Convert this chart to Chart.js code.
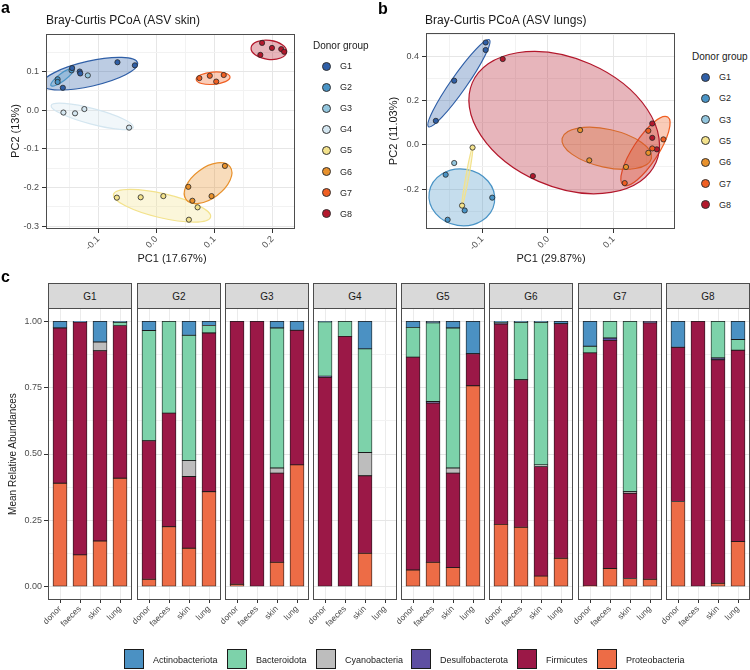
<!DOCTYPE html>
<html>
<head>
<meta charset="utf-8">
<script src="https://cdn.jsdelivr.net/npm/chart.js@4.4.0/dist/chart.umd.min.js"></script>
<style>
  body { margin: 0; background: #fff; font-family: Arial, "Liberation Sans", sans-serif; }
  #fig { position: relative; width: 750px; height: 670px; overflow: hidden; background: #fff; }
  #fig canvas { position: absolute; }
  .txt { position: absolute; white-space: nowrap; color: #1a1a1a; line-height: 1; }
  .strip { position: absolute; box-sizing: border-box; background: #d9d9d9; border: 1px solid #4d4d4d;
           font-size: 10px; color: #1a1a1a; display: flex; align-items: center; justify-content: center; }
  .dot { position: absolute; box-sizing: border-box; width: 9px; height: 9px; border-radius: 50%; border: 1px solid #333; }
  .key { position: absolute; box-sizing: border-box; width: 20px; height: 20px; border: 1.5px solid #1a1a1a; }
</style>
</head>
<body>
<div id="fig"></div>
<script>
// ---------- data ----------
const groups = ['G1', 'G2', 'G3', 'G4', 'G5', 'G6', 'G7', 'G8'];
const groupColors = {
  G1: '#2f5fa7', G2: '#4a94c6', G3: '#93c6de', G4: '#d4e6f0',
  G5: '#f3e28c', G6: '#e8912c', G7: '#f05f22', G8: '#b3182c'
};

// Bray-Curtis PCoA, ASV skin
const skinPC1 = {
  G1: [-0.145, -0.161, -0.067, -0.037, -0.132, -0.131],
  G2: [-0.170, -0.170, -0.146],
  G3: [-0.118],
  G4: [-0.160, -0.140, -0.124, -0.047],
  G5: [-0.068, -0.027, 0.012, 0.071, 0.056],
  G6: [0.055, 0.062, 0.095, 0.118],
  G7: [0.074, 0.092, 0.103, 0.116],
  G8: [0.182, 0.199, 0.215, 0.220, 0.179]
};
const skinPC2 = {
  G1: [0.109, 0.058, 0.124, 0.116, 0.100, 0.095],
  G2: [0.080, 0.073, 0.103],
  G3: [0.090],
  G4: [-0.006, -0.008, 0.003, -0.045],
  G5: [-0.226, -0.225, -0.222, -0.251, -0.283],
  G6: [-0.198, -0.234, -0.222, -0.144],
  G7: [0.083, 0.089, 0.074, 0.091],
  G8: [0.174, 0.161, 0.158, 0.151, 0.143]
};
const skinXTicks = [-0.1, 0.0, 0.1, 0.2];
const skinYTicks = [-0.3, -0.2, -0.1, 0.0, 0.1];

// Bray-Curtis PCoA, ASV lungs
const lungPC1 = {
  G1: [-0.095, -0.095, -0.143, -0.171],
  G2: [-0.156, -0.153, -0.127, -0.085],
  G3: [-0.143],
  G5: [-0.115, -0.131],
  G6: [0.049, 0.063, 0.119, 0.153],
  G7: [0.117, 0.176, 0.153, 0.159],
  G8: [-0.069, -0.023, 0.159, 0.159, 0.166]
};
const lungPC2 = {
  G1: [0.464, 0.430, 0.291, 0.109],
  G2: [-0.135, -0.339, -0.297, -0.239],
  G3: [-0.082],
  G5: [-0.012, -0.275],
  G6: [0.067, -0.070, -0.100, -0.036],
  G7: [-0.173, 0.025, 0.064, -0.016],
  G8: [0.389, -0.141, 0.097, 0.032, -0.020]
};
const lungXTicks = [-0.1, 0.0, 0.1];
const lungYTicks = [-0.2, 0.0, 0.2, 0.4];

// mean relative abundances: per group, values for donor / faeces / skin / lung
const sites = ['donor', 'faeces', 'skin', 'lung'];
const phyla = ['Actinobacteriota', 'Bacteroidota', 'Cyanobacteria', 'Desulfobacterota', 'Firmicutes', 'Proteobacteria'];
const phylumColors = ['#4b91c3', '#7dd2aa', '#bdbdbd', '#5e4fa2', '#9b1847', '#ed6c46'];

const actinobacteriota = {
  G1: [0.025, 0.003, 0.078, 0.004], G2: [0.035, 0, 0.053, 0.016],
  G3: [0, 0, 0.025, 0.034],         G4: [0.002, 0, 0.104, 0],
  G5: [0.023, 0.006, 0.025, 0.122], G6: [0.003, 0.004, 0.004, 0.009],
  G7: [0.094, 0, 0, 0],             G8: [0.098, 0, 0, 0.069]
};
const bacteroidota = {
  G1: [0, 0, 0, 0.012],             G2: [0.415, 0.346, 0.472, 0.028],
  G3: [0, 0, 0.528, 0],             G4: [0.205, 0.057, 0.390, 0],
  G5: [0.112, 0.296, 0.528, 0],     G6: [0.002, 0.216, 0.537, 0],
  G7: [0.025, 0.063, 0.642, 0],     G8: [0, 0, 0.138, 0.040]
};
const cyanobacteria = {
  G1: [0, 0, 0.033, 0], G2: [0, 0, 0.060, 0], G3: [0, 0, 0.019, 0], G4: [0, 0, 0.088, 0],
  G5: [0, 0, 0.019, 0], G6: [0, 0, 0.006, 0], G7: [0, 0, 0.006, 0], G8: [0, 0, 0, 0]
};
const desulfobacterota = {
  G1: [0, 0, 0, 0],     G2: [0, 0, 0, 0],     G3: [0, 0, 0, 0],         G4: [0.004, 0, 0, 0],
  G5: [0, 0.006, 0, 0], G6: [0.005, 0, 0, 0], G7: [0, 0.009, 0, 0.006], G8: [0, 0, 0.007, 0]
};
const firmicutes = {
  G1: [0.585, 0.877, 0.717, 0.575], G2: [0.522, 0.428, 0.270, 0.598],
  G3: [0.991, 1.000, 0.336, 0.507], G4: [0.789, 0.943, 0.292, 0],
  G5: [0.802, 0.600, 0.356, 0.121], G6: [0.755, 0.556, 0.413, 0.884],
  G7: [0.878, 0.859, 0.321, 0.966], G8: [0.581, 1.000, 0.842, 0.721]
};
const proteobacteria = {
  G1: [0.390, 0.120, 0.172, 0.409], G2: [0.028, 0.226, 0.145, 0.358],
  G3: [0.009, 0, 0.092, 0.459],     G4: [0, 0, 0.126, 0],
  G5: [0.063, 0.092, 0.072, 0.757], G6: [0.235, 0.224, 0.040, 0.107],
  G7: [0.003, 0.069, 0.031, 0.028], G8: [0.321, 0, 0.013, 0.170]
};
const abundances = [actinobacteriota, bacteroidota, cyanobacteria, desulfobacterota, firmicutes, proteobacteria];
const abundanceYTicks = [0, 0.25, 0.5, 0.75, 1];

// ---------- helpers ----------
const FONT = 'Arial, "Liberation Sans", sans-serif';
const fig = document.getElementById('fig');

function addText(text, x, y, opts = {}) {
  const d = document.createElement('div');
  d.className = 'txt';
  d.textContent = text;
  d.style.left = x + 'px';
  d.style.top = y + 'px';
  d.style.fontSize = (opts.size || 10) + 'px';
  if (opts.bold) d.style.fontWeight = 'bold';
  if (opts.color) d.style.color = opts.color;
  const tx = opts.center ? '-50%' : '0';
  d.style.transform = `translate(${tx}, -50%)` + (opts.rotate ? ` rotate(${opts.rotate}deg)` : '');
  if (opts.rotate) d.style.transformOrigin = '50% 50%';
  fig.appendChild(d);
  return d;
}

function addCanvas(left, top, w, h) {
  const c = document.createElement('canvas');
  c.width = w; c.height = h;
  c.style.left = left + 'px'; c.style.top = top + 'px';
  c.style.width = w + 'px'; c.style.height = h + 'px';
  fig.appendChild(c);
  return c;
}

function withAlpha(hex, a) {
  const n = parseInt(hex.slice(1), 16);
  return `rgba(${n >> 16},${(n >> 8) & 255},${n & 255},${a})`;
}

function minorsOf(majors, min, max) {
  const step = majors[1] - majors[0];
  const out = majors.map(v => v - step / 2).concat([majors[majors.length - 1] + step / 2]);
  return out.filter(v => v > min && v < max);
}
const isIn = (arr, v) => arr.some(m => Math.abs(m - v) < 1e-9);

function inv3(m) {
  const [a, b, c] = m[0], [d, e, f] = m[1], [g, h, i] = m[2];
  const A = e * i - f * h, B = -(d * i - f * g), C = d * h - e * g;
  const det = a * A + b * B + c * C;
  return [
    [A / det, -(b * i - c * h) / det, (b * f - c * e) / det],
    [B / det, (a * i - c * g) / det, -(a * f - c * d) / det],
    [C / det, -(a * h - b * g) / det, (a * e - b * d) / det]
  ];
}

// minimum volume enclosing ellipse (Khachiyan), in pixel space
function enclosingEllipse(pts) {
  const n = pts.length;
  if (n < 2) return null;
  const mx = pts.reduce((s, p) => s + p[0], 0) / n;
  const my = pts.reduce((s, p) => s + p[1], 0) / n;
  const P = pts.map(p => [p[0] - mx, p[1] - my]);
  if (n === 2) {
    const dx = P[1][0] - P[0][0], dy = P[1][1] - P[0][1];
    return { cx: mx, cy: my, a: Math.hypot(dx, dy) / 2 + 1, b: 1.5, angle: Math.atan2(dy, dx) };
  }
  let u = new Array(n).fill(1 / n);
  for (let it = 0; it < 20000; it++) {
    const X = [[0, 0, 0], [0, 0, 0], [0, 0, 0]];
    P.forEach((p, k) => {
      const q = [p[0], p[1], 1];
      for (let r = 0; r < 3; r++) for (let c = 0; c < 3; c++) X[r][c] += u[k] * q[r] * q[c];
    });
    const Xi = inv3(X);
    let j = 0, mj = -Infinity;
    P.forEach((p, k) => {
      const q = [p[0], p[1], 1];
      let m = 0;
      for (let r = 0; r < 3; r++) for (let c = 0; c < 3; c++) m += q[r] * Xi[r][c] * q[c];
      if (m > mj) { mj = m; j = k; }
    });
    const step = (mj - 3) / (3 * (mj - 1));
    if (!(step > 1e-7)) break;
    u = u.map(v => v * (1 - step));
    u[j] += step;
  }
  let cx = 0, cy = 0, sxx = 0, sxy = 0, syy = 0;
  P.forEach((p, k) => {
    cx += u[k] * p[0]; cy += u[k] * p[1];
    sxx += u[k] * p[0] * p[0]; sxy += u[k] * p[0] * p[1]; syy += u[k] * p[1] * p[1];
  });
  sxx = 2 * (sxx - cx * cx); sxy = 2 * (sxy - cx * cy); syy = 2 * (syy - cy * cy);
  const tr = (sxx + syy) / 2, df = Math.sqrt(((sxx - syy) / 2) ** 2 + sxy * sxy);
  // small expansion so the outline sits just outside the points
  return {
    cx: cx + mx, cy: cy + my,
    a: Math.sqrt(tr + df) + 2.5, b: Math.max(Math.sqrt(Math.max(tr - df, 0)), 1) + 2.5,
    angle: 0.5 * Math.atan2(2 * sxy, sxx - syy)
  };
}

const markEllipses = {
  id: 'markEllipses',
  beforeDatasetsDraw(chart) {
    const { ctx, chartArea: ar, scales: { x, y } } = chart;
    ctx.save();
    ctx.beginPath(); ctx.rect(ar.left, ar.top, ar.width, ar.height); ctx.clip();
    chart.data.datasets.forEach(ds => {
      const e = enclosingEllipse(ds.data.map(p => [x.getPixelForValue(p.x), y.getPixelForValue(p.y)]));
      if (!e) return;
      ctx.beginPath();
      ctx.ellipse(e.cx, e.cy, e.a, e.b, e.angle, 0, Math.PI * 2);
      ctx.fillStyle = withAlpha(ds.backgroundColor, 0.32);
      ctx.fill();
      ctx.strokeStyle = ds.backgroundColor;
      ctx.lineWidth = 1.2;
      ctx.stroke();
    });
    ctx.restore();
  }
};

const panelBorder = {
  id: 'panelBorder',
  afterDraw(chart) {
    const { ctx, chartArea: ar } = chart;
    ctx.save();
    ctx.strokeStyle = '#4d4d4d';
    ctx.lineWidth = 1;
    ctx.strokeRect(Math.round(ar.left) + 0.5, Math.round(ar.top) + 0.5,
                   Math.round(ar.width) - 1, Math.round(ar.height) - 1);
    ctx.restore();
  }
};

function gridFor(majors, withTicks) {
  return {
    color: c => isIn(majors, c.tick.value) ? '#e6e6e6' : '#f2f2f2',
    lineWidth: 1,
    drawTicks: withTicks,
    tickLength: 4,
    tickWidth: 1,
    tickColor: c => isIn(majors, c.tick.value) ? '#333' : 'rgba(0,0,0,0)'
  };
}

// ---------- PCoA panels ----------
function pcoaChart(box, pc1, pc2, xMajors, yMajors, xr, yr) {
  const cv = addCanvas(box.left, box.top, box.w, box.h);
  const xAll = xMajors.concat(minorsOf(xMajors, xr[0], xr[1])).sort((a, b) => a - b);
  const yAll = yMajors.concat(minorsOf(yMajors, yr[0], yr[1])).sort((a, b) => a - b);
  const datasets = Object.keys(pc1).map(g => ({
    label: g,
    data: pc1[g].map((v, k) => ({ x: v, y: pc2[g][k] })),
    backgroundColor: groupColors[g],
    borderColor: '#262626',
    borderWidth: 0.8,
    pointRadius: 2.6
  }));
  new Chart(cv, {
    type: 'scatter',
    data: { datasets },
    plugins: [markEllipses, panelBorder],
    options: {
      responsive: false, animation: false, events: [],
      layout: { padding: { top: box.top0, right: box.right0, left: 0, bottom: 0 } },
      plugins: { legend: { display: false }, tooltip: { enabled: false } },
      scales: {
        x: {
          type: 'linear', min: xr[0], max: xr[1],
          afterBuildTicks: s => { s.ticks = xAll.map(v => ({ value: v })); },
          afterFit: s => { s.height = box.bottom0; s.paddingLeft = 0; s.paddingRight = 0; },
          grid: gridFor(xMajors, true),
          border: { display: false },
          ticks: {
            autoSkip: false, maxRotation: 45, minRotation: 45, padding: 1,
            color: '#4d4d4d', font: { family: FONT, size: 9 },
            callback: v => isIn(xMajors, v) ? v.toFixed(1) : ''
          }
        },
        y: {
          type: 'linear', min: yr[0], max: yr[1],
          afterBuildTicks: s => { s.ticks = yAll.map(v => ({ value: v })); },
          afterFit: s => { s.width = box.left0; s.paddingTop = 0; s.paddingBottom = 0; },
          grid: gridFor(yMajors, true),
          border: { display: false },
          ticks: {
            autoSkip: false, padding: 3,
            color: '#4d4d4d', font: { family: FONT, size: 9 },
            callback: v => isIn(yMajors, v) ? v.toFixed(1) : ''
          }
        }
      }
    }
  });
}

pcoaChart({ left: 0, top: 0, w: 300, h: 262, left0: 46, top0: 34, right0: 2, bottom0: 33 },
  skinPC1, skinPC2, skinXTicks, skinYTicks, [-0.190, 0.239], [-0.307, 0.197]);
pcoaChart({ left: 380, top: 0, w: 300, h: 262, left0: 46, top0: 33, right0: 4, bottom0: 33 },
  lungPC1, lungPC2, lungXTicks, lungYTicks, [-0.186, 0.194], [-0.381, 0.507]);

addText('a', 1, 8, { size: 16, bold: true, color: '#000' });
addText('b', 378, 9, { size: 16, bold: true, color: '#000' });
addText('Bray-Curtis PCoA (ASV skin)', 46, 20, { size: 12 });
addText('Bray-Curtis PCoA (ASV lungs)', 425, 20, { size: 12 });
addText('PC1 (17.67%)', 172, 258, { size: 11, center: true });
addText('PC1 (29.87%)', 551, 258, { size: 11, center: true });
addText('PC2 (13%)', 15, 131, { size: 11, center: true, rotate: -90 });
addText('PC2 (11.03%)', 393, 131, { size: 11, center: true, rotate: -90 });

function donorLegend(names, x, titleY, firstY, dy) {
  addText('Donor group', x, titleY, { size: 10 });
  names.forEach((g, k) => {
    const cy = firstY + k * dy;
    const d = document.createElement('div');
    d.className = 'dot';
    d.style.left = (x + 8.5) + 'px';
    d.style.top = (cy - 4.5) + 'px';
    d.style.background = groupColors[g];
    fig.appendChild(d);
    addText(g, x + 27, cy, { size: 9, color: '#262626' });
  });
}
donorLegend(Object.keys(skinPC1), 313, 46, 66, 21.1);
donorLegend(Object.keys(lungPC1), 692, 57, 77, 21.3);

// ---------- relative abundance facets ----------
addText('c', 1, 277, { size: 16, bold: true, color: '#000' });
addText('Mean Relative Abundances', 13, 454, { size: 10, center: true, rotate: -90 });

const facetLefts = [48, 137, 225, 313, 401, 489, 578, 666];
const yAllC = abundanceYTicks.concat(minorsOf(abundanceYTicks, -0.05, 1.05)).sort((a, b) => a - b);

groups.forEach((g, i) => {
  const first = i === 0;
  const axisW = first ? 48 : 22;
  const cvLeft = facetLefts[i] - axisW;
  const cv = addCanvas(cvLeft, 308, axisW + 84, 340);

  const strip = document.createElement('div');
  strip.className = 'strip';
  strip.style.left = facetLefts[i] + 'px';
  strip.style.top = '283px';
  strip.style.width = '84px';
  strip.style.height = '26px';
  strip.textContent = g;
  fig.appendChild(strip);

  // bottom of the stack first
  const order = phyla.map((p, k) => k).reverse();
  const datasets = order.map(k => ({
    label: phyla[k],
    stack: 's',
    data: sites.map((s, j) => ({ x: j + 1, y: abundances[k][g][j] })),
    backgroundColor: phylumColors[k],
    borderColor: '#1a1a1a',
    borderWidth: 0.8,
    borderSkipped: false,
    barThickness: 14
  }));

  new Chart(cv, {
    type: 'bar',
    data: { datasets },
    plugins: [panelBorder],
    options: {
      responsive: false, animation: false, events: [],
      layout: { padding: { top: 0, right: 0, left: 0, bottom: 0 } },
      plugins: { legend: { display: false }, tooltip: { enabled: false } },
      scales: {
        x: {
          type: 'linear', min: 0.4, max: 4.6, offset: false, stacked: true,
          afterBuildTicks: s => { s.ticks = sites.map((t, j) => ({ value: j + 1 })); },
          afterFit: s => { s.height = 48; s.paddingLeft = 0; s.paddingRight = 0; },
          grid: { color: '#ebebeb', lineWidth: 1, drawTicks: true, tickLength: 3, tickColor: '#333', offset: false },
          border: { display: false },
          ticks: {
            autoSkip: false, maxRotation: 45, minRotation: 45, padding: 1,
            color: '#4d4d4d', font: { family: FONT, size: 8.5 },
            callback: v => sites[Math.round(v) - 1]
          }
        },
        y: {
          type: 'linear', min: -0.05, max: 1.05, stacked: true,
          afterBuildTicks: s => { s.ticks = yAllC.map(v => ({ value: v })); },
          afterFit: s => { s.width = axisW; s.paddingTop = 0; s.paddingBottom = 0; },
          grid: gridFor(abundanceYTicks, first),
          border: { display: false },
          ticks: {
            display: first, autoSkip: false, padding: 2,
            color: '#4d4d4d', font: { family: FONT, size: 9 },
            callback: v => isIn(abundanceYTicks, v) ? v.toFixed(2) : ''
          }
        }
      }
    }
  });
});

// legend for phyla
const keyLefts = [124, 227, 316, 411, 517, 597];
phyla.forEach((p, k) => {
  const d = document.createElement('div');
  d.className = 'key';
  d.style.left = keyLefts[k] + 'px';
  d.style.top = '649px';
  d.style.background = phylumColors[k];
  fig.appendChild(d);
  addText(p, keyLefts[k] + 29, 660, { size: 9 });
});
</script>
</body>
</html>
